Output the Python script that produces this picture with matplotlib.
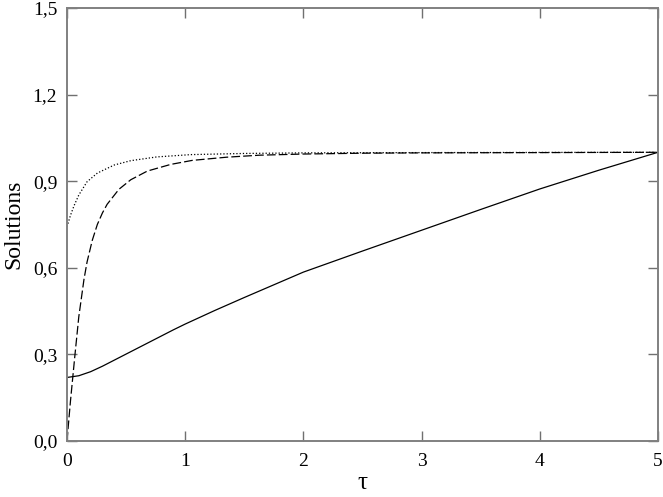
import matplotlib
matplotlib.use("Agg")
import matplotlib.pyplot as plt
from matplotlib.ticker import FuncFormatter, MultipleLocator

# valeurs
tau_solid = [0, 0.1, 0.2, 0.3, 0.4, 0.5, 0.6, 0.7, 0.8, 0.9, 1.0, 1.25, 1.5, 1.75, 2.0,
             2.5, 3.0, 3.5, 4.0, 4.5, 5.0]
sol_solid = [0.22, 0.226, 0.24, 0.259, 0.28, 0.301, 0.322, 0.343, 0.364, 0.385, 0.405,
             0.452, 0.497, 0.541, 0.585, 0.658, 0.73, 0.802, 0.873, 0.938, 1.0]

tau_dashed = [0, 0.03, 0.068, 0.10, 0.144, 0.17, 0.214, 0.257, 0.30, 0.34, 0.44, 0.54,
              0.68, 0.877, 1.06, 1.35, 1.63, 2.0, 2.53, 3.0, 4.0, 5.0]
sol_dashed = [0, 0.14, 0.30, 0.43, 0.56, 0.62, 0.695, 0.75, 0.79, 0.82, 0.872, 0.905,
              0.935, 0.958, 0.972, 0.983, 0.99, 0.994, 0.997, 0.998, 0.999, 1.0]

tau_dotted = [0, 0.03, 0.059, 0.10, 0.17, 0.257, 0.40, 0.54, 0.76, 1.05, 1.5, 2.0, 3.0, 5.0]
sol_dotted = [0.742, 0.782, 0.814, 0.852, 0.898, 0.928, 0.956, 0.971, 0.984, 0.992, 0.996,
              0.998, 0.999, 1.0]

plt.rcParams["font.family"] = ["Liberation Serif", "DejaVu Serif"]
plt.rcParams["font.size"] = 14

fig = plt.figure(figsize=(6.63, 4.97), dpi=100)
ax = fig.add_axes([0.101, 0.1127, 0.8915, 0.8713])

ax.plot(tau_solid, sol_solid, color="black", lw=0.9)
ax.plot(tau_dashed, sol_dashed, color="black", lw=0.9, dashes=(7, 2.5))
ax.plot(tau_dotted, sol_dotted, color="black", lw=0.9, dashes=(1, 1.6))

ax.set_xlim(0, 5)
ax.set_ylim(0, 1.5)
ax.xaxis.set_major_locator(MultipleLocator(1))
ax.yaxis.set_major_locator(MultipleLocator(0.3))
ax.yaxis.set_major_formatter(FuncFormatter(lambda v, p: f"{v:.1f}".replace(".", ",")))
ax.xaxis.set_major_formatter(FuncFormatter(lambda v, p: f"{v:.0f}"))

ax.tick_params(direction="in", length=7, width=1, color="#707070",
               top=True, right=True, labelsize=14)
ax.tick_params(axis="x", pad=9)
ax.tick_params(axis="y", pad=7)
for s in ax.spines.values():
    s.set_color("#808080")
    s.set_linewidth(1.4)

ax.set_xlabel("τ", fontsize=18, labelpad=1)
ax.set_ylabel("Solutions", fontsize=17, labelpad=6)

plt.savefig("out.png", dpi=100)
plt.close()
